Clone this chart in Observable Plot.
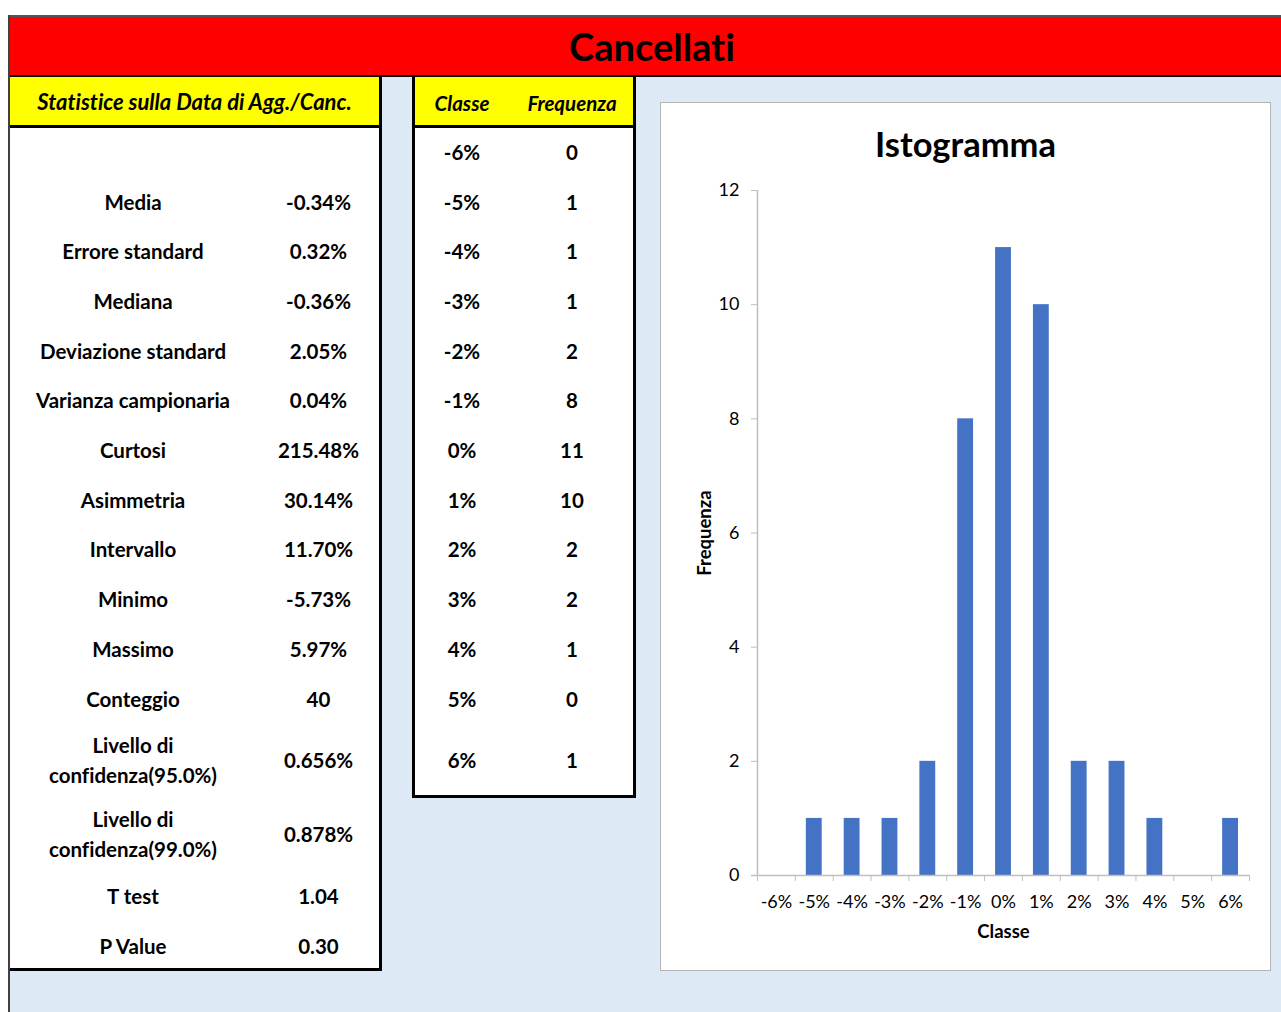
<!DOCTYPE html>
<html>
<head>
<meta charset="utf-8">
<script src="https://cdn.jsdelivr.net/npm/d3@7"></script>
<script src="https://cdn.jsdelivr.net/npm/@observablehq/plot@0.6"></script>
<style>
  body { margin: 0; background: #fff; font-family: Lato, "Open Sans", sans-serif; color: #000;
         font-variant-ligatures: none; }
  #page { position: relative; width: 1281px; height: 1012px; overflow: hidden; }
  .abs { position: absolute; box-sizing: border-box; }
  .cell { position: absolute; display: flex; align-items: center; justify-content: center;
          text-align: center; font-weight: bold; font-size: 20.5px; line-height: 30px; }
  #chart svg { font-variant-ligatures: none; }
  #chart svg [aria-label="x-axis label"] text,
  #chart svg [aria-label="y-axis label"] text { font-weight: bold; font-size: 18.5px; }
</style>
</head>
<body>
<div id="page"></div>
<script>
// Descriptive statistics of the add/cancel date
const statLabels = [
  "Media", "Errore standard", "Mediana", "Deviazione standard", "Varianza campionaria",
  "Curtosi", "Asimmetria", "Intervallo", "Minimo", "Massimo", "Conteggio",
  "Livello di\nconfidenza(95.0%)", "Livello di\nconfidenza(99.0%)", "T test", "P Value"
];
const statValues = [
  "-0.34%", "0.32%", "-0.36%", "2.05%", "0.04%", "215.48%", "30.14%", "11.70%",
  "-5.73%", "5.97%", "40", "0.656%", "0.878%", "1.04", "0.30"
];

// Frequency table (class in %, count)
const classes = [-6, -5, -4, -3, -2, -1, 0, 1, 2, 3, 4, 5, 6];
const frequencies = [0, 1, 1, 1, 2, 8, 11, 10, 2, 2, 1, 0, 1];
const yTicks = [0, 2, 4, 6, 8, 10, 12];

const page = document.getElementById("page");
function box(style, html) {
  const d = document.createElement("div");
  d.className = "abs";
  Object.assign(d.style, style);
  if (html != null) d.innerHTML = html;
  page.appendChild(d);
  return d;
}
function cell(x, y, w, h, text, extra) {
  const d = document.createElement("div");
  d.className = "cell";
  Object.assign(d.style, {left: x + "px", top: y + "px", width: w + "px", height: h + "px"}, extra || {});
  d.innerHTML = text.replace(/\n/g, "<br>");
  page.appendChild(d);
  return d;
}

// sheet background and banner
box({left: "10px", top: "77px", width: "1271px", height: "935px", background: "#dde9f5"});
box({left: "8px", top: "15px", width: "2px", height: "997px", background: "#404040"});
box({left: "10px", top: "15px", width: "1271px", height: "62px", background: "#ff0000",
     borderTop: "2px solid #555", borderBottom: "2px solid #000"});
box({left: "0px", top: "17px", width: "1304px", height: "58px", display: "flex",
     alignItems: "center", justifyContent: "center", fontWeight: "bold", fontSize: "38px"}, "Cancellati");

// shared row grid of the two tables
const rowTop0 = 127, rowH = 49.7, tallH = 74;
const rowTops = [];
const rowHeights = [];
let yCur = rowTop0;
["", ...statLabels].forEach(l => {
  const h = l.includes("\n") ? tallH : rowH;
  rowTops.push(yCur); rowHeights.push(h); yCur += h;
});

// statistics table
box({left: "10px", top: "77px", width: "372px", height: "894px", background: "#fff",
     borderRight: "3px solid #000", borderBottom: "3px solid #000"});
box({left: "10px", top: "77px", width: "369px", height: "51px", background: "#ffff00",
     borderBottom: "3px solid #000"});
cell(10, 77, 369, 49, "Statistice sulla Data di Agg./Canc.", {fontStyle: "italic", fontSize: "22px"});
statLabels.forEach((l, i) => {
  cell(10, rowTops[i + 1], 246, rowHeights[i + 1], l);
  cell(256, rowTops[i + 1], 125, rowHeights[i + 1], statValues[i]);
});

// frequency table
const last = classes.length - 1;
const tblBottom = rowTops[last] + rowHeights[last];
box({left: "412px", top: "77px", width: "224px", height: (tblBottom - 77 + 1) + "px", background: "#fff",
     border: "3px solid #000", borderTop: "none"});
box({left: "415px", top: "77px", width: "218px", height: "51px", background: "#ffff00",
     borderBottom: "3px solid #000"});
cell(414, 77, 96, 51, "Classe", {fontStyle: "italic"});
cell(510, 77, 124, 51, "Frequenza", {fontStyle: "italic"});
classes.forEach((c, i) => {
  cell(414, rowTops[i], 96, rowHeights[i], c + "%");
  cell(510, rowTops[i], 124, rowHeights[i], String(frequencies[i]));
});

// chart area
box({left: "660px", top: "102px", width: "611px", height: "869px", background: "#fff",
     border: "1px solid #b4b4b4"});
box({left: "660px", top: "124px", width: "611px", height: "40px", lineHeight: "40px",
     textAlign: "center", fontWeight: "bold", fontSize: "34.5px"}, "Istogramma");

const data = classes.map((c, i) => ({classe: c, freq: frequencies[i]}));
const edges = [...classes.map(c => c - 0.5), classes[last] + 0.5];

const chart = Plot.plot({
  width: 610,
  height: 868,
  marginLeft: 97,
  marginRight: 21,
  marginTop: 88,
  marginBottom: 95,
  style: {fontFamily: "Lato, 'Open Sans', sans-serif", color: "#000",
          background: "transparent", overflow: "visible"},
  x: {domain: [classes[0] - 0.5, classes[last] + 0.5]},
  y: {domain: [0, 12]},
  marks: [
    Plot.rectY(data, {x1: d => d.classe - 0.5, x2: d => d.classe + 0.5, y: "freq",
                      fill: "#4472c4", insetLeft: 11, insetRight: 11}),
    Plot.ruleY([0], {stroke: "#bfbfbf", strokeWidth: 1.5, insetLeft: -6}),
    Plot.ruleX([classes[0] - 0.5], {stroke: "#bfbfbf", strokeWidth: 1.5}),
    Plot.axisX({ticks: edges, tickSize: 6, stroke: "#bfbfbf", tickFormat: () => "", label: null}),
    Plot.axisX({ticks: classes, tickSize: 0, tickPadding: 20, tickFormat: d => d + "%",
                fontSize: 18, label: "Classe", labelAnchor: "center", labelOffset: 62, labelArrow: "none"}),
    Plot.axisY({ticks: yTicks, tickSize: 6, tickPadding: 12, stroke: "#bfbfbf", fontSize: 18,
                label: "Frequenza", labelAnchor: "center", labelOffset: 60, labelArrow: "none"})
  ]
});
const holder = box({left: "660px", top: "102px", width: "610px", height: "868px"});
holder.id = "chart";
holder.appendChild(chart);
</script>
</body>
</html>
